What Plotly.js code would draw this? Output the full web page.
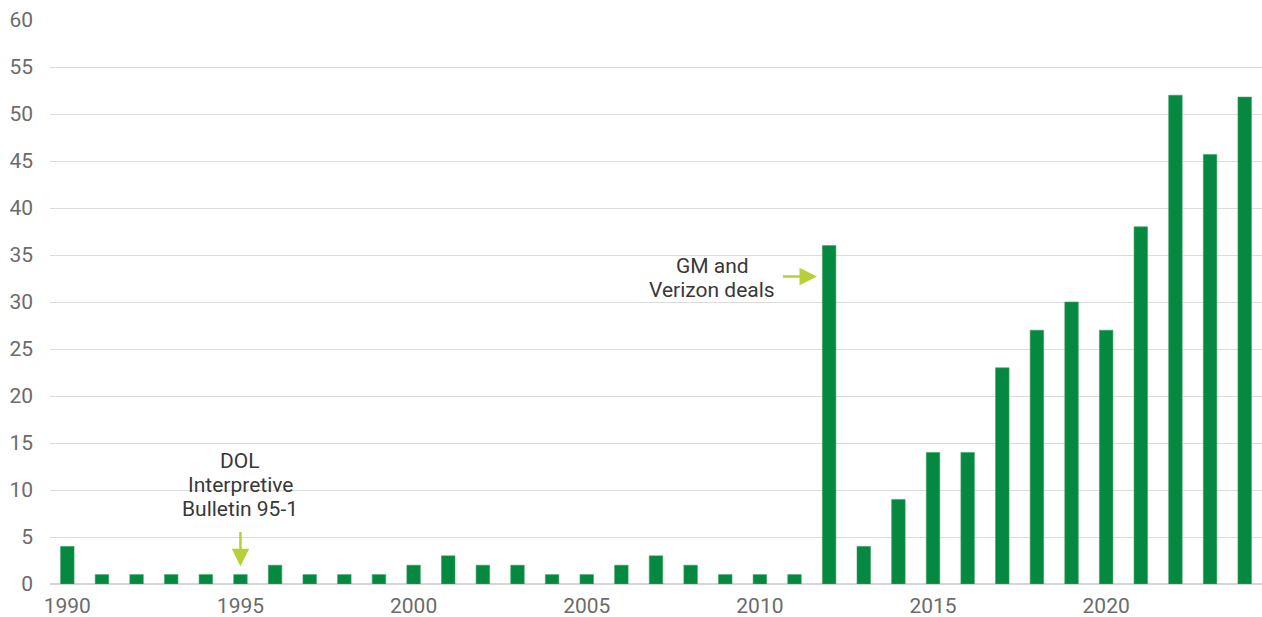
<!DOCTYPE html>
<html>
<head>
<meta charset="utf-8">
<script src="https://cdn.plot.ly/plotly-3.0.1.min.js"></script>
<style>html,body{margin:0;padding:0;background:#fff;}#chart{width:1262px;height:617px;}</style>
</head>
<body>
<div id="chart"></div>
<script>
const years = [1990,1991,1992,1993,1994,1995,1996,1997,1998,1999,2000,2001,2002,2003,2004,2005,2006,2007,2008,2009,2010,2011,2012,2013,2014,2015,2016,2017,2018,2019,2020,2021,2022,2023,2024];
const values = [4,1,1,1,1,1,2,1,1,1,2,3,2,2,1,1,2,3,2,1,1,1,36,4,9,14,14,23,27,30,27,38,52,45.7,51.8];
const xTicks = [1990,1995,2000,2005,2010,2015,2020];
const yTicks = [0,5,10,15,20,25,30,35,40,45,50,55,60];
const dolLines = ['DOL','Interpretive','Bulletin 95-1'];
const gmLines = ['GM and','Verizon deals'];

const trace = {
  type:'bar', x:years, y:values, width:0.39,
  marker:{color:'#05883f', line:{color:'#3aa266', width:0.6}},
  hoverinfo:'x+y'
};

const annotations = [];
function addLines(lines, xData, yData, lineStep){
  const n = lines.length;
  lines.forEach((t,i)=>{
    annotations.push({x:xData, y:yData, xref:'x', yref:'y', text:t, showarrow:false,
      yshift:((n-1)/2 - i)*lineStep,
      font:{family:'Roboto, sans-serif', size:21, color:'#383838'}, align:'center'});
  });
}
addLines(dolLines, 1995, 10.5, 24);
addLines(gmLines, 2008.63, 32.55, 24);
function addArrow(hx,hy,tx,ty){
  annotations.push({x:hx, y:hy, ax:tx, ay:ty, axref:'x', ayref:'y', xref:'x', yref:'y',
    text:'', showarrow:true, arrowhead:2, arrowsize:1.4, arrowwidth:2.5, arrowcolor:'#b8cf3a'});
}
addArrow(1995, 1.9, 1995, 5.7);
addArrow(2011.65, 32.7, 2010.62, 32.7);

const layout = {
  width:1262, height:617,
  margin:{l:50, r:0, t:20, b:33},
  paper_bgcolor:'#fff', plot_bgcolor:'#fff',
  font:{family:'Roboto, sans-serif', color:'#6b6b6b', size:21},
  showlegend:false,
  xaxis:{range:[1989.5,2024.5], tickvals:xTicks, ticktext:xTicks.map(String), showgrid:false, zeroline:false,
    showline:false, ticks:'', ticklabelstandoff:7, tickfont:{size:21, color:'#6b6b6b'}},
  yaxis:{range:[0,60], tickvals:yTicks, ticktext:yTicks.map(String), showgrid:true, gridcolor:'#dcdcdc', gridwidth:1,
    zeroline:true, zerolinecolor:'#d6d6d6', zerolinewidth:1.5, showline:false, ticks:'', ticklabelstandoff:16,
    tickfont:{size:21, color:'#6b6b6b'}},
  annotations:annotations
};
Plotly.newPlot('chart',[trace],layout,{displayModeBar:false, staticPlot:true});
</script>
</body>
</html>
